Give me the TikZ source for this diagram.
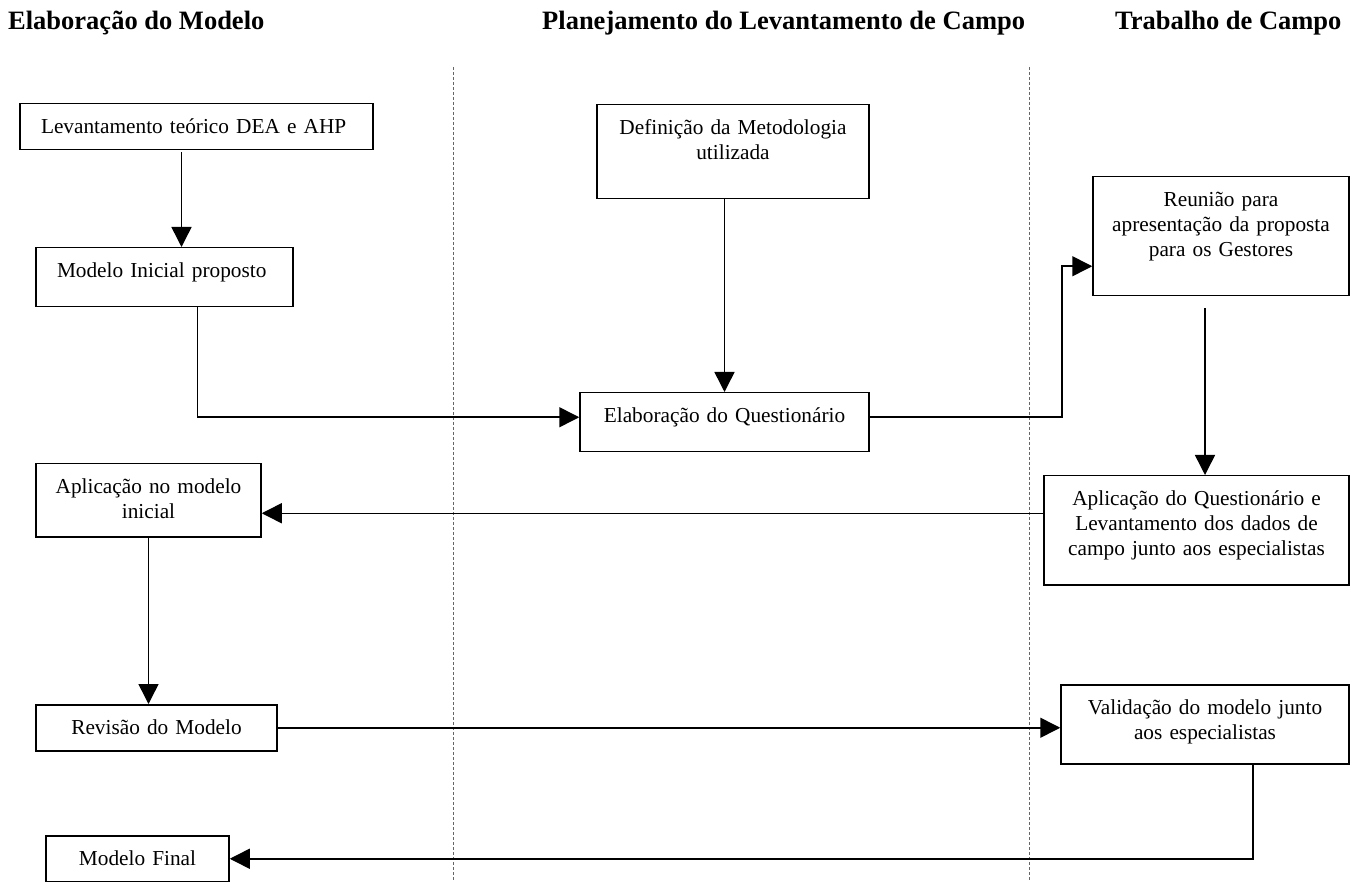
\documentclass[tikz,border=0pt]{standalone}
\usepackage{fontspec}
\setmainfont{Liberation Serif}
\usetikzlibrary{arrows.meta,positioning}

\begin{document}
\begin{tikzpicture}
[x=1pt,y=-1pt,
box/.style 2 args={rectangle,draw=black,line width=1.5pt,anchor=north,inner xsep=10pt,inner ysep=8pt,
  text height=22pt,text width=#1,text depth=#2,align=center,font=\fontsize{21.3}{25}\selectfont},
head/.style={anchor=base west,inner sep=0pt,font=\fontsize{26.5}{30}\selectfont\bfseries},
arr/.style={-{Triangle[length=20pt,width=20pt]},line width=1.5pt},
lane/.style={draw=black!60,densely dashed,line width=0.8pt}]
\useasboundingbox (0,0) rectangle (1350,882);
% titles of the three lanes
\node at (8,30) [head] (hmod) {Elaboração do Modelo};
\node at (542,30) [head] (hpla) {Planejamento do Levantamento de Campo};
\node at (1115,30) [head] (htra) {Trabalho de Campo};
\draw[lane] (453,67) -- (453,882);
\draw[lane] (1029,67) -- (1029,882);
% boxes
\node at (196.5,103) [box={311pt}{8pt},align=left,inner xsep=21pt] (lev) {Levantamento teórico DEA e AHP};
\node at (164.5,247) [box={215pt}{21pt},align=left,inner xsep=21pt] (ini) {Modelo Inicial proposto};
\node at (733,104) [box={252pt}{56pt}] (def) {Definição da Metodologia\\utilizada};
\node at (724.5,392) [box={269pt}{21pt}] (que) {Elaboração do Questionário};
\node at (1221,176) [box={236pt}{81pt}] (reu) {Reunião para\\apresentação da proposta\\para os Gestores};
\node at (1196.5,475) [box={285pt}{71pt}] (apq) {Aplicação do Questionário e\\Levantamento dos dados de\\campo junto aos especialistas};
\node at (148.5,463) [box={205pt}{35pt}] (apm) {Aplicação no modelo\\inicial};
\node at (156.5,704) [box={221pt}{8pt}] (rev) {Revisão do Modelo};
\node at (1205,684) [box={268pt}{41pt}] (val) {Validação do modelo junto\\aos especialistas};
\node at (137.5,835) [box={163pt}{8pt}] (fin) {Modelo Final};
% connectors
\draw[arr] ([xshift=-15pt,yshift=-2pt]lev.south) -- ([xshift=-15pt]lev.south |- ini.north);
\draw[arr] ([xshift=33pt]ini.south) |- ([yshift=5pt]que.west);
\draw[arr] (que.north |- def.south) -- (que.north);
\draw[arr] ([yshift=5pt]que.east) -- ++(192,0) |- ([yshift=-30pt]reu.west);
\draw[arr] ([xshift=-16pt,yshift=-12pt]reu.south) -- ([xshift=-16pt]reu.south |- apq.north);
\draw[arr] ([yshift=17pt]apq.west) -- ([yshift=17pt]apq.west -| apm.east);
\draw[arr] (apm.south) -- (apm.south |- rev.north);
\draw[arr] (rev.east) -- (rev.east -| val.west);
\draw[arr] ([xshift=48pt]val.south) |- (fin.east);
\end{tikzpicture}
\end{document}
